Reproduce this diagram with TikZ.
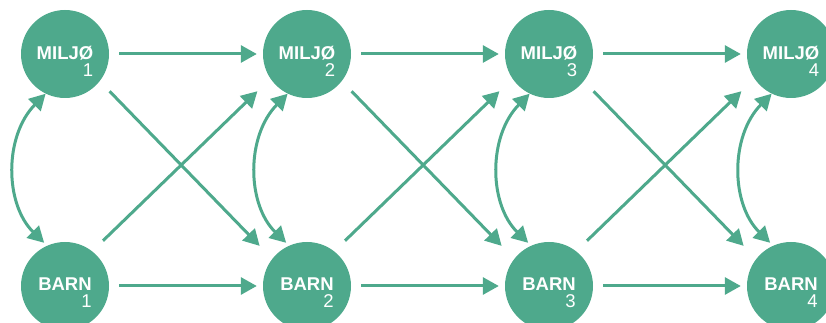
\documentclass[tikz,border=0pt]{standalone}
\usepackage{fontspec}
\setmainfont{Liberation Sans}
\usetikzlibrary{arrows.meta}
\definecolor{moss}{HTML}{4EA98C}

\begin{document}
\begin{tikzpicture}[x=1pt, y=1pt, font=\fontsize{18.5}{17}\selectfont,
  st/.style={circle, fill=moss, minimum size=88pt, inner sep=0pt},
  lbl/.style={text=white, align=right, inner sep=0pt},
  arr/.style={-{Triangle[length=16pt, width=17pt]}, line width=3pt, moss},
  bi/.style={{Triangle[length=16pt, width=17pt]}-{Triangle[length=16pt, width=17pt]}, line width=3pt, moss}
]
  \clip (0,0) rectangle (826,323);
  \foreach \i/\x in {1/65, 2/307, 3/549, 4/791} {
    \node[st] (m\i) at (\x,269) {};
    \node[st] (b\i) at (\x,37) {};
    \node[lbl] (tm\i) at ([yshift=-7pt]m\i) {\textbf{MILJØ}\\\i};
    \node[lbl] (tb\i) at ([yshift=-7pt]b\i) {\textbf{BARN}\\\i};
  }

  \foreach \a/\b in {1/2, 2/3, 3/4} {
    \draw[arr, shorten <=10pt, shorten >=6pt] (m\a) -- (m\b);
    \draw[arr, shorten <=10pt, shorten >=6pt] (b\a) -- (b\b);
    \draw[arr, shorten <=14pt, shorten >=18pt] (m\a.-38) -- (b\b.142);
    \draw[arr, shorten <=15pt, shorten >=18pt] (b\a.52) -- (m\b.214);
  }

  \foreach \i in {1,...,4}
    \draw[bi, shorten >=4pt] (m\i.244) to[bend right=45] (b\i.114);
\end{tikzpicture}
\end{document}
